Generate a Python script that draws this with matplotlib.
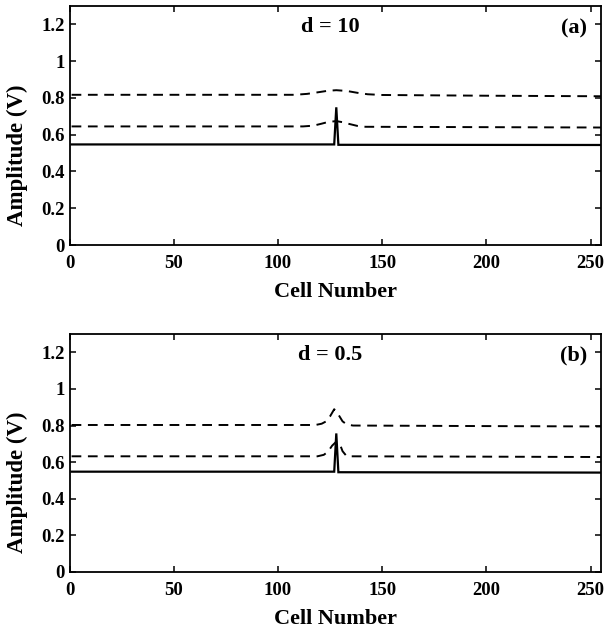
import matplotlib
matplotlib.use("Agg")
import matplotlib.pyplot as plt

plt.rcParams["font.family"] = ["Liberation Serif", "DejaVu Serif"]
plt.rcParams["font.weight"] = "bold"

# Cell positions and amplitudes (V) for each trace, panel (a): d = 10
a_upper_x = [1, 60, 108, 114, 120, 124, 128, 133, 138, 143, 150, 200, 256]
a_upper_y = [0.817, 0.817, 0.817, 0.822, 0.832, 0.839, 0.842, 0.838, 0.828, 0.820, 0.816, 0.812, 0.809]
a_lower_x = [1, 60, 112, 117, 121, 124, 128, 131, 134, 138, 142, 200, 256]
a_lower_y = [0.645, 0.645, 0.645, 0.649, 0.660, 0.669, 0.674, 0.668, 0.659, 0.648, 0.643, 0.641, 0.639]
a_solid_x = [1, 127, 128, 129, 256]
a_solid_y = [0.547, 0.547, 0.749, 0.545, 0.544]

# Panel (b): d = 0.5
b_upper_x = [1, 60, 118, 121, 123, 125, 127, 129, 131, 133, 136, 200, 256]
b_upper_y = [0.803, 0.803, 0.803, 0.810, 0.822, 0.850, 0.889, 0.860, 0.823, 0.806, 0.800, 0.797, 0.795]
b_lower_x = [1, 60, 119, 122, 124, 126, 128, 130, 131, 133, 200, 256]
b_lower_y = [0.632, 0.632, 0.632, 0.640, 0.657, 0.690, 0.712, 0.690, 0.660, 0.632, 0.630, 0.628]
b_solid_x = [1, 127, 128, 129, 256]
b_solid_y = [0.548, 0.548, 0.757, 0.545, 0.543]

x_ticks = [0, 50, 100, 150, 200, 250]
y_ticks = [0, 0.2, 0.4, 0.6, 0.8, 1.0, 1.2]
y_tick_labels = ["0", "0.2", "0.4", "0.6", "0.8", "1", "1.2"]

panels = [
    dict(upper=(a_upper_x, a_upper_y), lower=(a_lower_x, a_lower_y),
         solid=(a_solid_x, a_solid_y), title="d = 10", tag="(a)"),
    dict(upper=(b_upper_x, b_upper_y), lower=(b_lower_x, b_lower_y),
         solid=(b_solid_x, b_solid_y), title="d = 0.5", tag="(b)"),
]

fig = plt.figure(figsize=(6.08, 6.35), dpi=100)
W, H = 608, 635
boxes = [(69.5, 6, 601, 245), (69.5, 334, 601, 572)]

dash = (0, (5.0, 3.4))
for p, (l, t, r, b) in zip(panels, boxes):
    ax = fig.add_axes([l / W, 1 - b / H, (r - l) / W, (b - t) / H])
    ax.plot(*p["upper"], color="black", lw=1.4, linestyle=dash)
    ax.plot(*p["lower"], color="black", lw=1.4, linestyle=dash)
    ax.plot(*p["solid"], color="black", lw=1.6, solid_joinstyle="miter")
    ax.set_xlim(0, 255)
    ax.set_ylim(0, 1.3)
    ax.set_xticks(x_ticks)
    ax.set_yticks(y_ticks)
    ax.set_yticklabels(y_tick_labels)
    ax.tick_params(direction="in", top=True, right=True, length=4.5, width=1.1,
                   labelsize=13.5)
    ax.tick_params(axis="x", pad=7.5)
    ax.tick_params(axis="y", pad=3.5)
    for lab in ax.get_xticklabels() + ax.get_yticklabels():
        lab.set_fontweight("bold")
    for s in ax.spines.values():
        s.set_linewidth(1.3)
    ax.set_xlabel("Cell Number", fontsize=16, fontweight="bold")
    ax.set_ylabel("Amplitude (V)", fontsize=16.5, fontweight="bold")
    ax.xaxis.set_label_coords(0.5, -0.155)
    ax.yaxis.set_label_coords(-0.078, 0.377)
    ax.text(125, 1.185, p["title"], ha="center", va="center", fontsize=16,
            fontweight="bold")
    ax.text(242, 1.18, p["tag"], ha="center", va="center", fontsize=16,
            fontweight="bold")

fig.savefig("out.png", dpi=100, facecolor="white")
